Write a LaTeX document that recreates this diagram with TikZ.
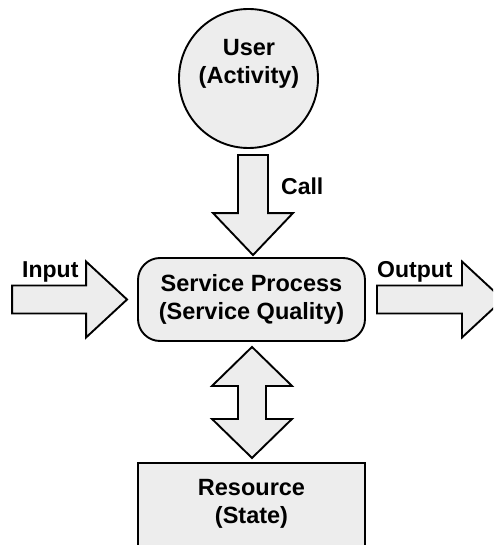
\documentclass[tikz,border=0pt]{standalone}
\usepackage{fontspec}
\setmainfont{Liberation Sans}
\usetikzlibrary{calc}
\definecolor{boxfill}{HTML}{EDEDED}
\tikzset{
  outlined/.style={draw=black, line width=1.9pt, fill=boxfill, line join=miter},
  caption/.style={font=\fontsize{23.5}{28}\selectfont\bfseries, inner sep=0pt, align=center},
  sidelabel/.style={font=\fontsize{23}{28}\selectfont\bfseries, inner sep=0pt, anchor=base west},
}
\begin{document}
\begin{tikzpicture}[x=1pt,y=-1pt]
\useasboundingbox (0,0) rectangle (493,545);
\clip (0,0) rectangle (493,545);

% main elements
\node[circle, outlined, minimum size=139pt, inner sep=0pt] (user) at (248.5,78.5) {};
\node[caption] (userlabel) at (249,64) {User\\(Activity)};

\node[rectangle, rounded corners=22pt, outlined, minimum width=227pt,
      minimum height=83pt, inner sep=0pt, caption] (proc) at (251.5,299.5)
      {Service Process\\(Service Quality)};

\node[rectangle, outlined, minimum width=227pt, minimum height=117pt,
      inner sep=0pt] (res) at (251.5,521.5) {};
\node[caption] (reslabel) at (251.5,504) {Resource\\(State)};

% call arrow from the user down to the process
\draw[outlined] ($(proc.north)+(1.5,-2)$) -- ++(-40,-42) -- ++(25,0) -- ++(0,-58)
  -- ++(30,0) -- ++(0,58) -- ++(25,0) -- cycle;
\node[sidelabel] (call) at (281,194) {Call};

% two-way arrow between the process and the resource
\draw[outlined] ($(proc.south)+(0.5,5)$) -- ++(40,39) -- ++(-26,0) -- ++(0,33)
  -- ++(26,0) -- ++(-40,39) -- ++(-40,-39) -- ++(26,0) -- ++(0,-33)
  -- ++(-26,0) -- cycle;

% input arrow
\draw[outlined] ($(proc.west)+(-10,0)$) -- ++(-41,-38) -- ++(0,24) -- ++(-74,0)
  -- ++(0,28) -- ++(74,0) -- ++(0,24) -- cycle;
\node[sidelabel] (inlabel) at (22,277) {Input};

% output arrow
\draw[outlined] ($(proc.east)+(11,0)$) -- ++(0,-14) -- ++(85,0) -- ++(0,-24)
  -- ++(41,38) -- ++(-41,38) -- ++(0,-24) -- ++(-85,0) -- cycle;
\node[sidelabel] (outlabel) at (377,277) {Output};
\end{tikzpicture}
\end{document}
